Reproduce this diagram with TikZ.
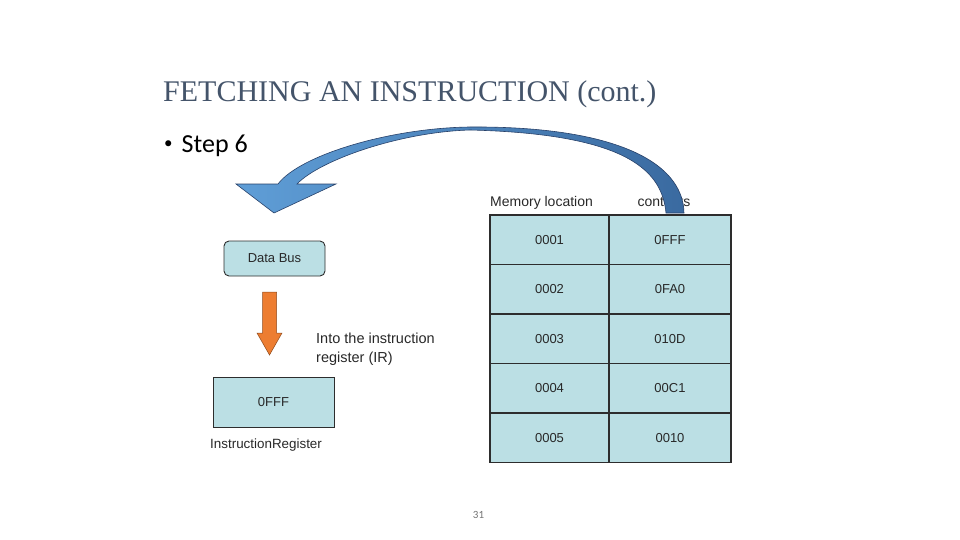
\documentclass[tikz,border=0pt]{standalone}
\usepackage{fontspec}
\setmainfont{Liberation Serif}
\newfontfamily\arialf{Liberation Sans}
\newfontfamily\calibrif{Carlito}
\usetikzlibrary{calc}
\definecolor{cellblue}{RGB}{187,223,228}
\definecolor{cellline}{RGB}{45,45,45}
\definecolor{titlecol}{RGB}{68,84,106}
\definecolor{orangearrow}{RGB}{237,125,49}
\definecolor{arrowleft}{RGB}{95,158,215}
\definecolor{arrowright}{RGB}{58,106,160}
\definecolor{arrowline}{RGB}{40,65,105}
\definecolor{txtgray}{RGB}{40,40,40}
\tikzset{
  cell/.style={draw=cellline, line width=1.1pt, fill=cellblue, inner sep=0pt, outer sep=0pt,
    minimum height=49.5pt, font=\arialf\fontsize{13}{15}\selectfont, text=txtgray},
  lcell/.style={cell, minimum width=119pt},
  rcell/.style={cell, minimum width=122pt},
  diagtext/.style={font=\arialf\fontsize{14}{16}\selectfont, text=txtgray, inner sep=0pt},
  boxstyle/.style={draw=cellline, line width=0.9pt, fill=cellblue, inner sep=0pt,
    font=\arialf\fontsize{13}{15}\selectfont, text=txtgray},
}
\begin{document}
\begin{tikzpicture}[x=1pt,y=-1pt]
\useasboundingbox (0,0) rectangle (960,540);

% title and bullet
\node[anchor=base west, inner sep=0pt, text=titlecol, font=\fontsize{30}{34}\selectfont]
  (title) at (163,102) {FETCHING AN INSTRUCTION (cont.)};
\node[anchor=base west, inner sep=0pt, font=\calibrif\fontsize{26}{30}\selectfont]
  (step) at (164,153) {\raisebox{4pt}{\fontsize{17}{17}\selectfont•}\hspace{9pt}Step 6};

% memory table
\node[diagtext, anchor=base west] (hmem) at (490,206) {Memory location};
\node[diagtext, anchor=base] (hcont) at (664,206) {contents};
\foreach \i/\a/\c in {1/0001/0FFF, 2/0002/0FA0, 3/0003/010D, 4/0004/00C1, 5/0005/0010}{
  \node[lcell] (l\i) at (549.5,{215+49.5*(\i-0.5)}) {\a};
  \node[rcell] (c\i) at (670,{215+49.5*(\i-0.5)}) {\c};
}

% data bus and instruction register
\node[boxstyle, rounded corners=5pt, minimum width=101pt, minimum height=35pt]
  (db) at (274.5,258.5) {Data Bus};
\node[boxstyle, minimum width=121pt, minimum height=50pt]
  (ir) at (273.5,402) {0FFF};
\node[diagtext, anchor=base west, font=\arialf\fontsize{13.4}{15}\selectfont]
  (irlabel) at (210,448) {InstructionRegister};
\node[diagtext, anchor=base west, align=left, font=\arialf\fontsize{14.5}{19}\selectfont]
  (into) at (316,362) {Into the instruction\\register (IR)};

% orange arrow from data bus to IR
\coordinate (otop) at (269.5,292);
\coordinate (otip) at (269.5,355);
\fill[orangearrow, draw=orangearrow!60!black, line width=0.5pt]
  ($(otop)+(-7,0)$) -- ($(otop)+(7,0)$) -- ($(otip)+(7,-22)$) -- ($(otip)+(12.5,-22)$)
  -- (otip) -- ($(otip)+(-12.5,-22)$) -- ($(otip)+(-7,-22)$) -- cycle;

% big curved arrow from memory contents to data bus
\shade[left color=arrowleft, right color=arrowright, draw=arrowline, line width=0.6pt]
  (666,213) .. controls (662,172) and (630,134) .. (470,130)
  .. controls (400,132) and (320,160) .. (297,184)
  -- (336,184) -- (274,213) -- (236,184) -- (278,184)
  .. controls (300,155) and (390,128) .. (470,127)
  .. controls (610,126) and (683,160) .. (684,213) -- cycle;

% page number
\node[inner sep=0pt, text=black!55, font=\calibrif\fontsize{11}{13}\selectfont]
  (pnum) at (478.5,515) {31};
\end{tikzpicture}
\end{document}
